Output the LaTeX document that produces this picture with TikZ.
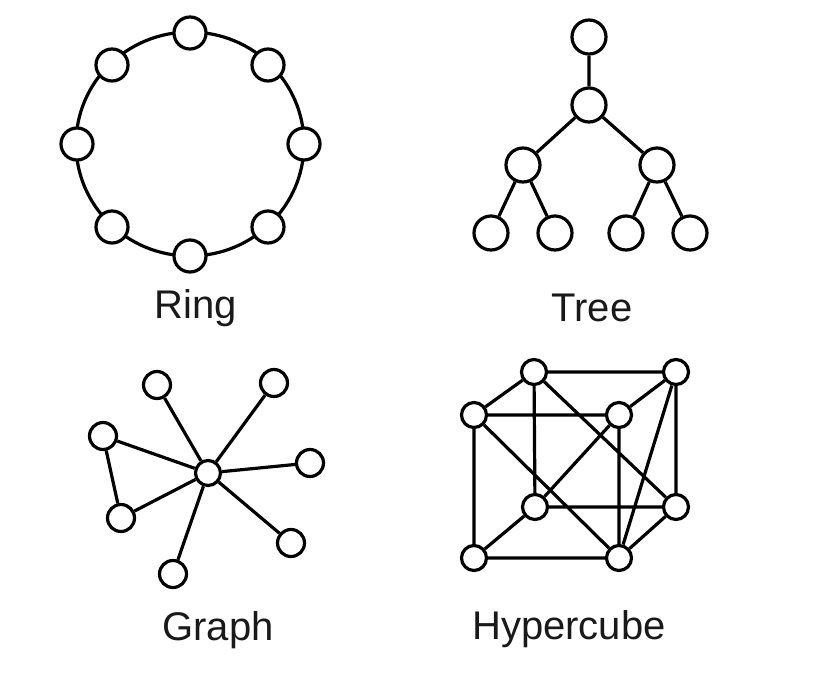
\documentclass[tikz,border=0pt]{standalone}
\usepackage{fontspec}
\setmainfont{Liberation Sans}
\begin{document}
\begin{tikzpicture}[x=1pt,y=-1pt,
  edge/.style={line width=3.2pt, black},
  ringnode/.style={circle, draw=black, line width=3.2pt, fill=white, minimum size=32pt, inner sep=0pt},
  treenode/.style={circle, draw=black, line width=3.2pt, fill=white, minimum size=34pt, inner sep=0pt},
  graphnode/.style={circle, draw=black, line width=3.2pt, fill=white, minimum size=27pt, inner sep=0pt},
  cubenode/.style={circle, draw=black, line width=3.2pt, fill=white, minimum size=25pt, inner sep=0pt},
  caption/.style={font=\fontsize{40}{46}\selectfont, text=black!90, inner sep=0pt}]
\useasboundingbox (0,0) rectangle (833,681);
% Ring
\draw[edge] (190,144) circle[x radius=114pt, y radius=112pt];
\node[ringnode] (r1) at (190,33) {};
\node[ringnode] (r2) at (268,65) {};
\node[ringnode] (r3) at (304,144) {};
\node[ringnode] (r4) at (268,227) {};
\node[ringnode] (r5) at (190,256) {};
\node[ringnode] (r6) at (112,227) {};
\node[ringnode] (r7) at (77,144) {};
\node[ringnode] (r8) at (112,65) {};
\node[caption] (lring) at (196,308) {Ring};
% Tree
\node[treenode] (t0) at (589,37) {};
\node[treenode] (t1) at (589,105) {};
\node[treenode] (t2) at (523,165) {};
\node[treenode] (t3) at (657,165) {};
\node[treenode] (t4) at (491,233) {};
\node[treenode] (t5) at (555,233) {};
\node[treenode] (t6) at (626,233) {};
\node[treenode] (t7) at (690,233) {};
\draw[edge] (t0) -- (t1) (t1) -- (t2) (t1) -- (t3) (t2) -- (t4) (t2) -- (t5) (t3) -- (t6) (t3) -- (t7);
\node[caption] (ltree) at (592,308) {Tree};
% Graph
\node[graphnode, minimum size=25pt] (g0) at (208,473) {};
\node[graphnode] (g1) at (157,385) {};
\node[graphnode] (g2) at (274,383) {};
\node[graphnode] (g3) at (103,436) {};
\node[graphnode] (g4) at (310,463) {};
\node[graphnode] (g5) at (121,518) {};
\node[graphnode] (g6) at (173,574) {};
\node[graphnode] (g7) at (291,543) {};
\draw[edge] (g0) -- (g1) (g0) -- (g2) (g0) -- (g3) (g0) -- (g4) (g0) -- (g5) (g0) -- (g6) (g0) -- (g7) (g3) -- (g5);
\node[caption] (lgraph) at (218,630) {Graph};
% Hypercube
\node[cubenode] (ha) at (534,372) {};
\node[cubenode] (hb) at (676,372) {};
\node[cubenode] (hc) at (474,415) {};
\node[cubenode] (hd) at (619,415) {};
\node[cubenode] (he) at (535,507) {};
\node[cubenode] (hf) at (676,507) {};
\node[cubenode] (hg) at (474,558) {};
\node[cubenode] (hh) at (619,558) {};
\draw[edge] (ha) -- (hb) (ha) -- (hc) (ha) -- (he) (ha) -- (hf)
  (hc) -- (hd) (hd) -- (hb) (hc) -- (hg) (hc) -- (hh) (hd) -- (he) (hd) -- (hh)
  (hb) -- (hf) (hb) -- (hh) (he) -- (hf) (he) -- (hg) (hg) -- (hh) (hh) -- (hf);
\node[caption] (lcube) at (569,629) {Hypercube};
\end{tikzpicture}
\end{document}
